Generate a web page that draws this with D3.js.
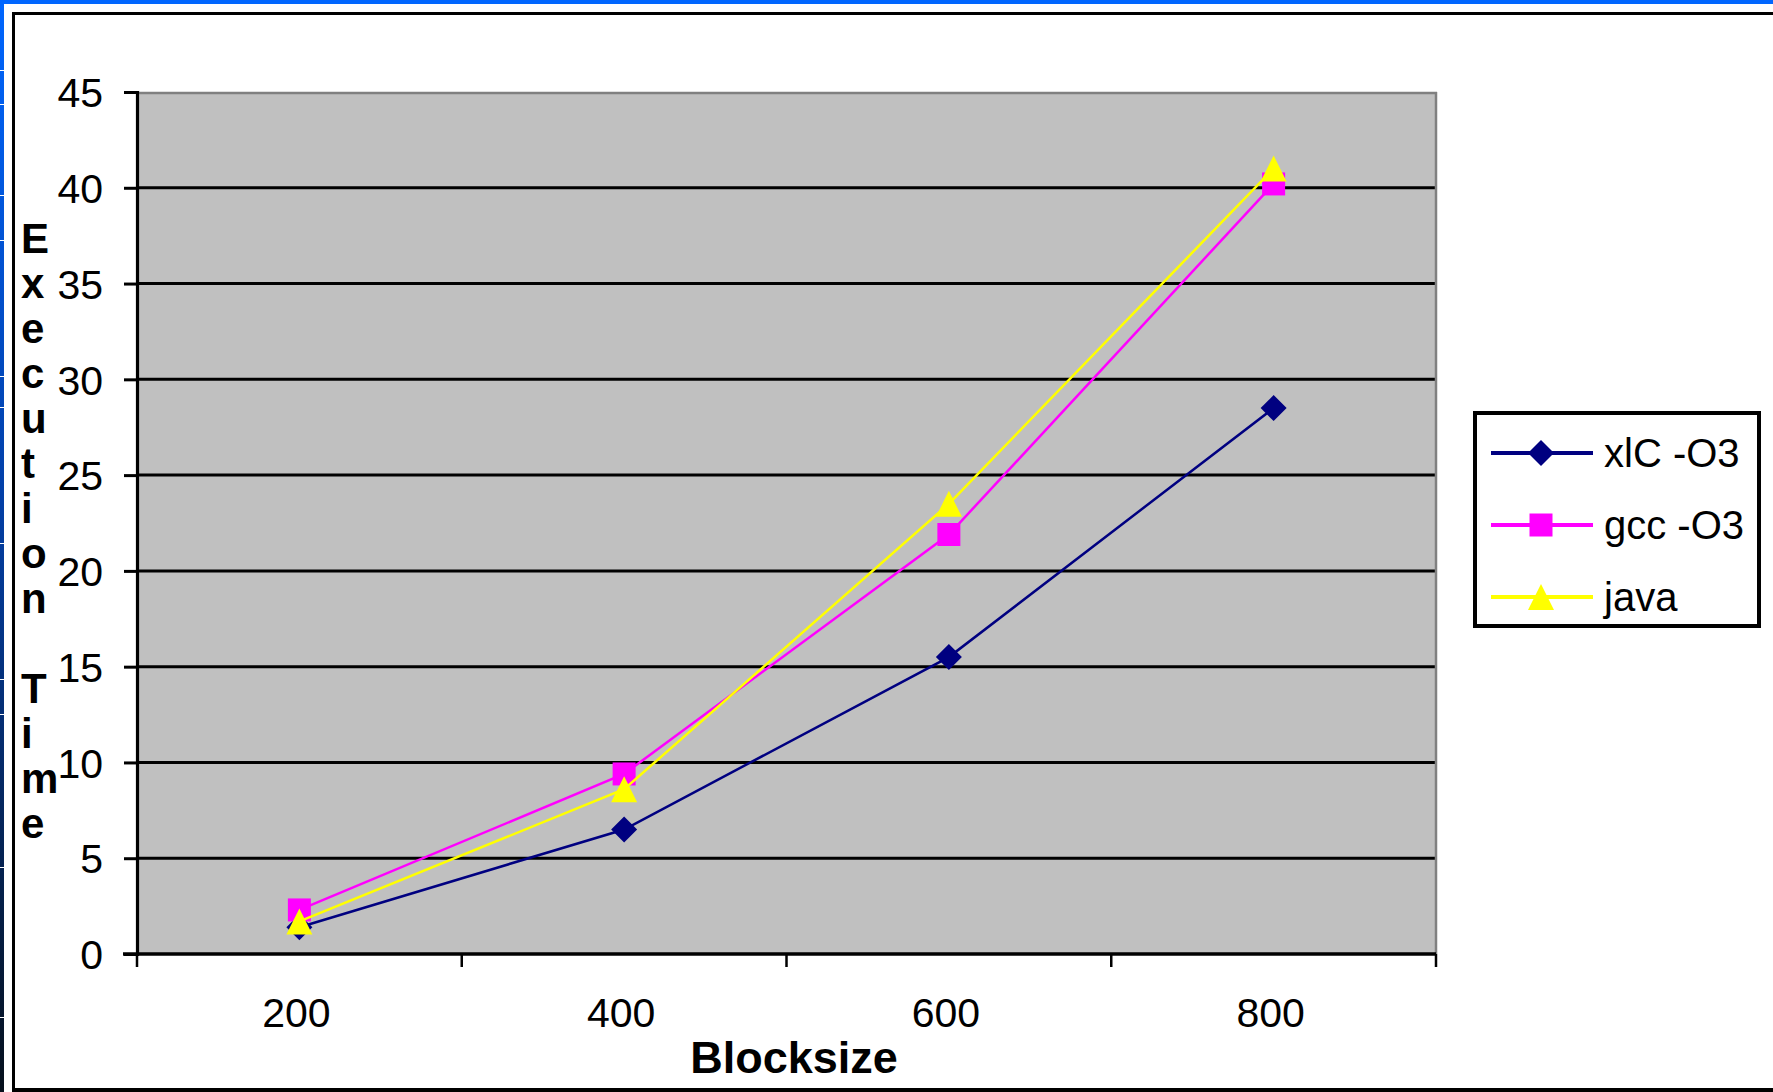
<!DOCTYPE html>
<html>
<head>
<meta charset="utf-8">
<script src="https://cdn.jsdelivr.net/npm/d3@7"></script>
<style>
  html, body { margin: 0; padding: 0; background: #ffffff; }
  svg { display: block; }
</style>
</head>
<body>
<svg id="chart" width="1773" height="1092"></svg>
<script>
// ---- data ----
const categories = ["200", "400", "600", "800"];
const seriesNames = ["xlC -O3", "gcc -O3", "java"];
const xlcValues = [1.4, 6.5, 15.5, 28.5];
const gccValues = [2.3, 9.4, 21.9, 40.2];
const javaValues = [1.7, 8.6, 23.5, 41.0];
const yTicks = [0, 5, 10, 15, 20, 25, 30, 35, 40, 45];
const yTitle = "Execution Time";
const xTitle = "Blocksize";

const seriesColors = ["#000080", "#ff00ff", "#ffff00"];
const seriesMarkers = ["diamond", "square", "triangle"];
const seriesList = [xlcValues, gccValues, javaValues].map((vals, i) => ({
  name: seriesNames[i], values: vals, color: seriesColors[i], marker: seriesMarkers[i]
}));

// ---- layout ----
const svg = d3.select("#chart");
const W = 1773, H = 1092;
const plot = { left: 137, right: 1436, top: 92, bottom: 954 };
const FONT = "'Liberation Sans', Arial, sans-serif";

svg.append("rect").attr("x", 0).attr("y", 0).attr("width", W).attr("height", H).attr("fill", "#ffffff");

// window-like frame decoration
const defs = svg.append("defs");
const grad = defs.append("linearGradient").attr("id", "leftBlue").attr("x1", 0).attr("y1", 0).attr("x2", 0).attr("y2", 1);
grad.append("stop").attr("offset", "0%").attr("stop-color", "#0066ff");
grad.append("stop").attr("offset", "45%").attr("stop-color", "#0340a8");
grad.append("stop").attr("offset", "100%").attr("stop-color", "#06101c");
svg.append("rect").attr("x", 0).attr("y", 0).attr("width", 4).attr("height", H).attr("fill", "url(#leftBlue)");
svg.append("rect").attr("x", 0).attr("y", 0).attr("width", W).attr("height", 4).attr("fill", "#0066ff");
[70, 104, 195, 240, 376, 407, 543, 679, 714, 867, 1017].forEach(y => {
  svg.append("rect").attr("x", 0).attr("y", y).attr("width", 4).attr("height", 1).attr("fill", "#ffffff");
});
svg.append("rect").attr("x", 12).attr("y", 12).attr("width", 3).attr("height", H - 12).attr("fill", "#000");
svg.append("rect").attr("x", 12).attr("y", 12).attr("width", W - 12).attr("height", 3).attr("fill", "#000");
svg.append("rect").attr("x", 12).attr("y", 1088).attr("width", W - 12).attr("height", 4).attr("fill", "#000");

// ---- scales ----
const x = d3.scaleBand().domain(categories).range([plot.left, plot.right]).paddingInner(0).paddingOuter(0);
const y = d3.scaleLinear().domain([0, 45]).range([plot.bottom, plot.top]);
const cx = c => x(c) + x.bandwidth() / 2;

// plot background
svg.append("rect")
  .attr("x", plot.left).attr("y", plot.top)
  .attr("width", plot.right - plot.left).attr("height", plot.bottom - plot.top)
  .attr("fill", "#c0c0c0");

// gridlines
svg.append("g").selectAll("line").data(yTicks.filter(t => t > 0 && t < 45)).join("line")
  .attr("x1", plot.left).attr("x2", plot.right)
  .attr("y1", d => y(d)).attr("y2", d => y(d))
  .attr("stroke", "#000").attr("stroke-width", 3);

// top/right gray border
svg.append("line").attr("x1", plot.left).attr("x2", plot.right + 1).attr("y1", plot.top + 1).attr("y2", plot.top + 1)
  .attr("stroke", "#808080").attr("stroke-width", 2.5);
svg.append("line").attr("x1", plot.right).attr("x2", plot.right).attr("y1", plot.top).attr("y2", plot.bottom)
  .attr("stroke", "#808080").attr("stroke-width", 2.5);

// y axis
const yAxis = d3.axisLeft(y).tickValues(yTicks).tickSize(13).tickPadding(21).tickFormat(d3.format("d"));
const gy = svg.append("g").attr("transform", `translate(${plot.left},0)`).call(yAxis);
gy.select(".domain").attr("stroke", "#000").attr("stroke-width", 3.2);
gy.selectAll(".tick line").attr("stroke", "#000").attr("stroke-width", 3);
gy.selectAll(".tick text").attr("font-family", FONT).attr("font-size", 41).attr("fill", "#000")
  .attr("dy", "0.36em");

// x axis: ticks at band boundaries
const boundaries = categories.map(c => x(c)).concat([plot.right]);
const gx = svg.append("g");
gx.append("line").attr("x1", plot.left - 14).attr("x2", plot.right).attr("y1", plot.bottom).attr("y2", plot.bottom)
  .attr("stroke", "#000").attr("stroke-width", 3.5);
gx.selectAll("line.xt").data(boundaries).join("line").attr("class", "xt")
  .attr("x1", d => d).attr("x2", d => d).attr("y1", plot.bottom).attr("y2", plot.bottom + 13)
  .attr("stroke", "#000").attr("stroke-width", 2.5);
gx.selectAll("text").data(categories).join("text")
  .attr("x", d => cx(d) - 3).attr("y", 1027)
  .attr("text-anchor", "middle")
  .attr("font-family", FONT).attr("font-size", 41).attr("fill", "#000")
  .text(d => d);

// axis titles
svg.append("text").attr("x", 794).attr("y", 1073).attr("text-anchor", "middle")
  .attr("font-family", FONT).attr("font-weight", "bold").attr("font-size", 45).attr("fill", "#000")
  .text(xTitle);
const yt = svg.append("text").attr("font-family", FONT).attr("font-weight", "bold").attr("font-size", 42).attr("fill", "#000");
yTitle.split("").forEach((ch, i) => {
  if (ch === " ") return;
  yt.append("tspan").attr("x", 21).attr("y", 253 + i * 45).text(ch);
});

// markers
function markerPath(type, px, py) {
  if (type === "diamond") {
    const r = 13;
    return `M${px},${py - r}L${px + r},${py}L${px},${py + r}L${px - r},${py}Z`;
  }
  if (type === "square") {
    const h = 11.5;
    return `M${px - h},${py - h}H${px + h}V${py + h}H${px - h}Z`;
  }
  const h = 13;
  return `M${px},${py - h}L${px + h},${py + h}L${px - h},${py + h}Z`;
}

// series
const line = d3.line().x((d, i) => cx(categories[i])).y(d => y(d));
seriesList.forEach(s => {
  const g = svg.append("g");
  g.append("path").attr("d", line(s.values)).attr("fill", "none")
    .attr("stroke", s.color).attr("stroke-width", 2.5);
  g.selectAll("path.m").data(s.values).join("path").attr("class", "m")
    .attr("d", (d, i) => markerPath(s.marker, cx(categories[i]), y(d)))
    .attr("fill", s.color);
});

// legend
const lg = svg.append("g");
lg.append("rect").attr("x", 1475).attr("y", 413).attr("width", 284).attr("height", 213)
  .attr("fill", "#fff").attr("stroke", "#000").attr("stroke-width", 4);
seriesList.forEach((s, i) => {
  const ly = 453 + i * 72;
  lg.append("line").attr("x1", 1491).attr("x2", 1593).attr("y1", ly).attr("y2", ly)
    .attr("stroke", s.color).attr("stroke-width", 4);
  lg.append("path").attr("d", markerPath(s.marker, 1541, ly)).attr("fill", s.color);
  lg.append("text").attr("x", 1604).attr("y", ly).attr("dy", "0.36em")
    .attr("font-family", FONT).attr("font-size", 40).attr("fill", "#000")
    .text(s.name);
});
</script>
</body>
</html>
